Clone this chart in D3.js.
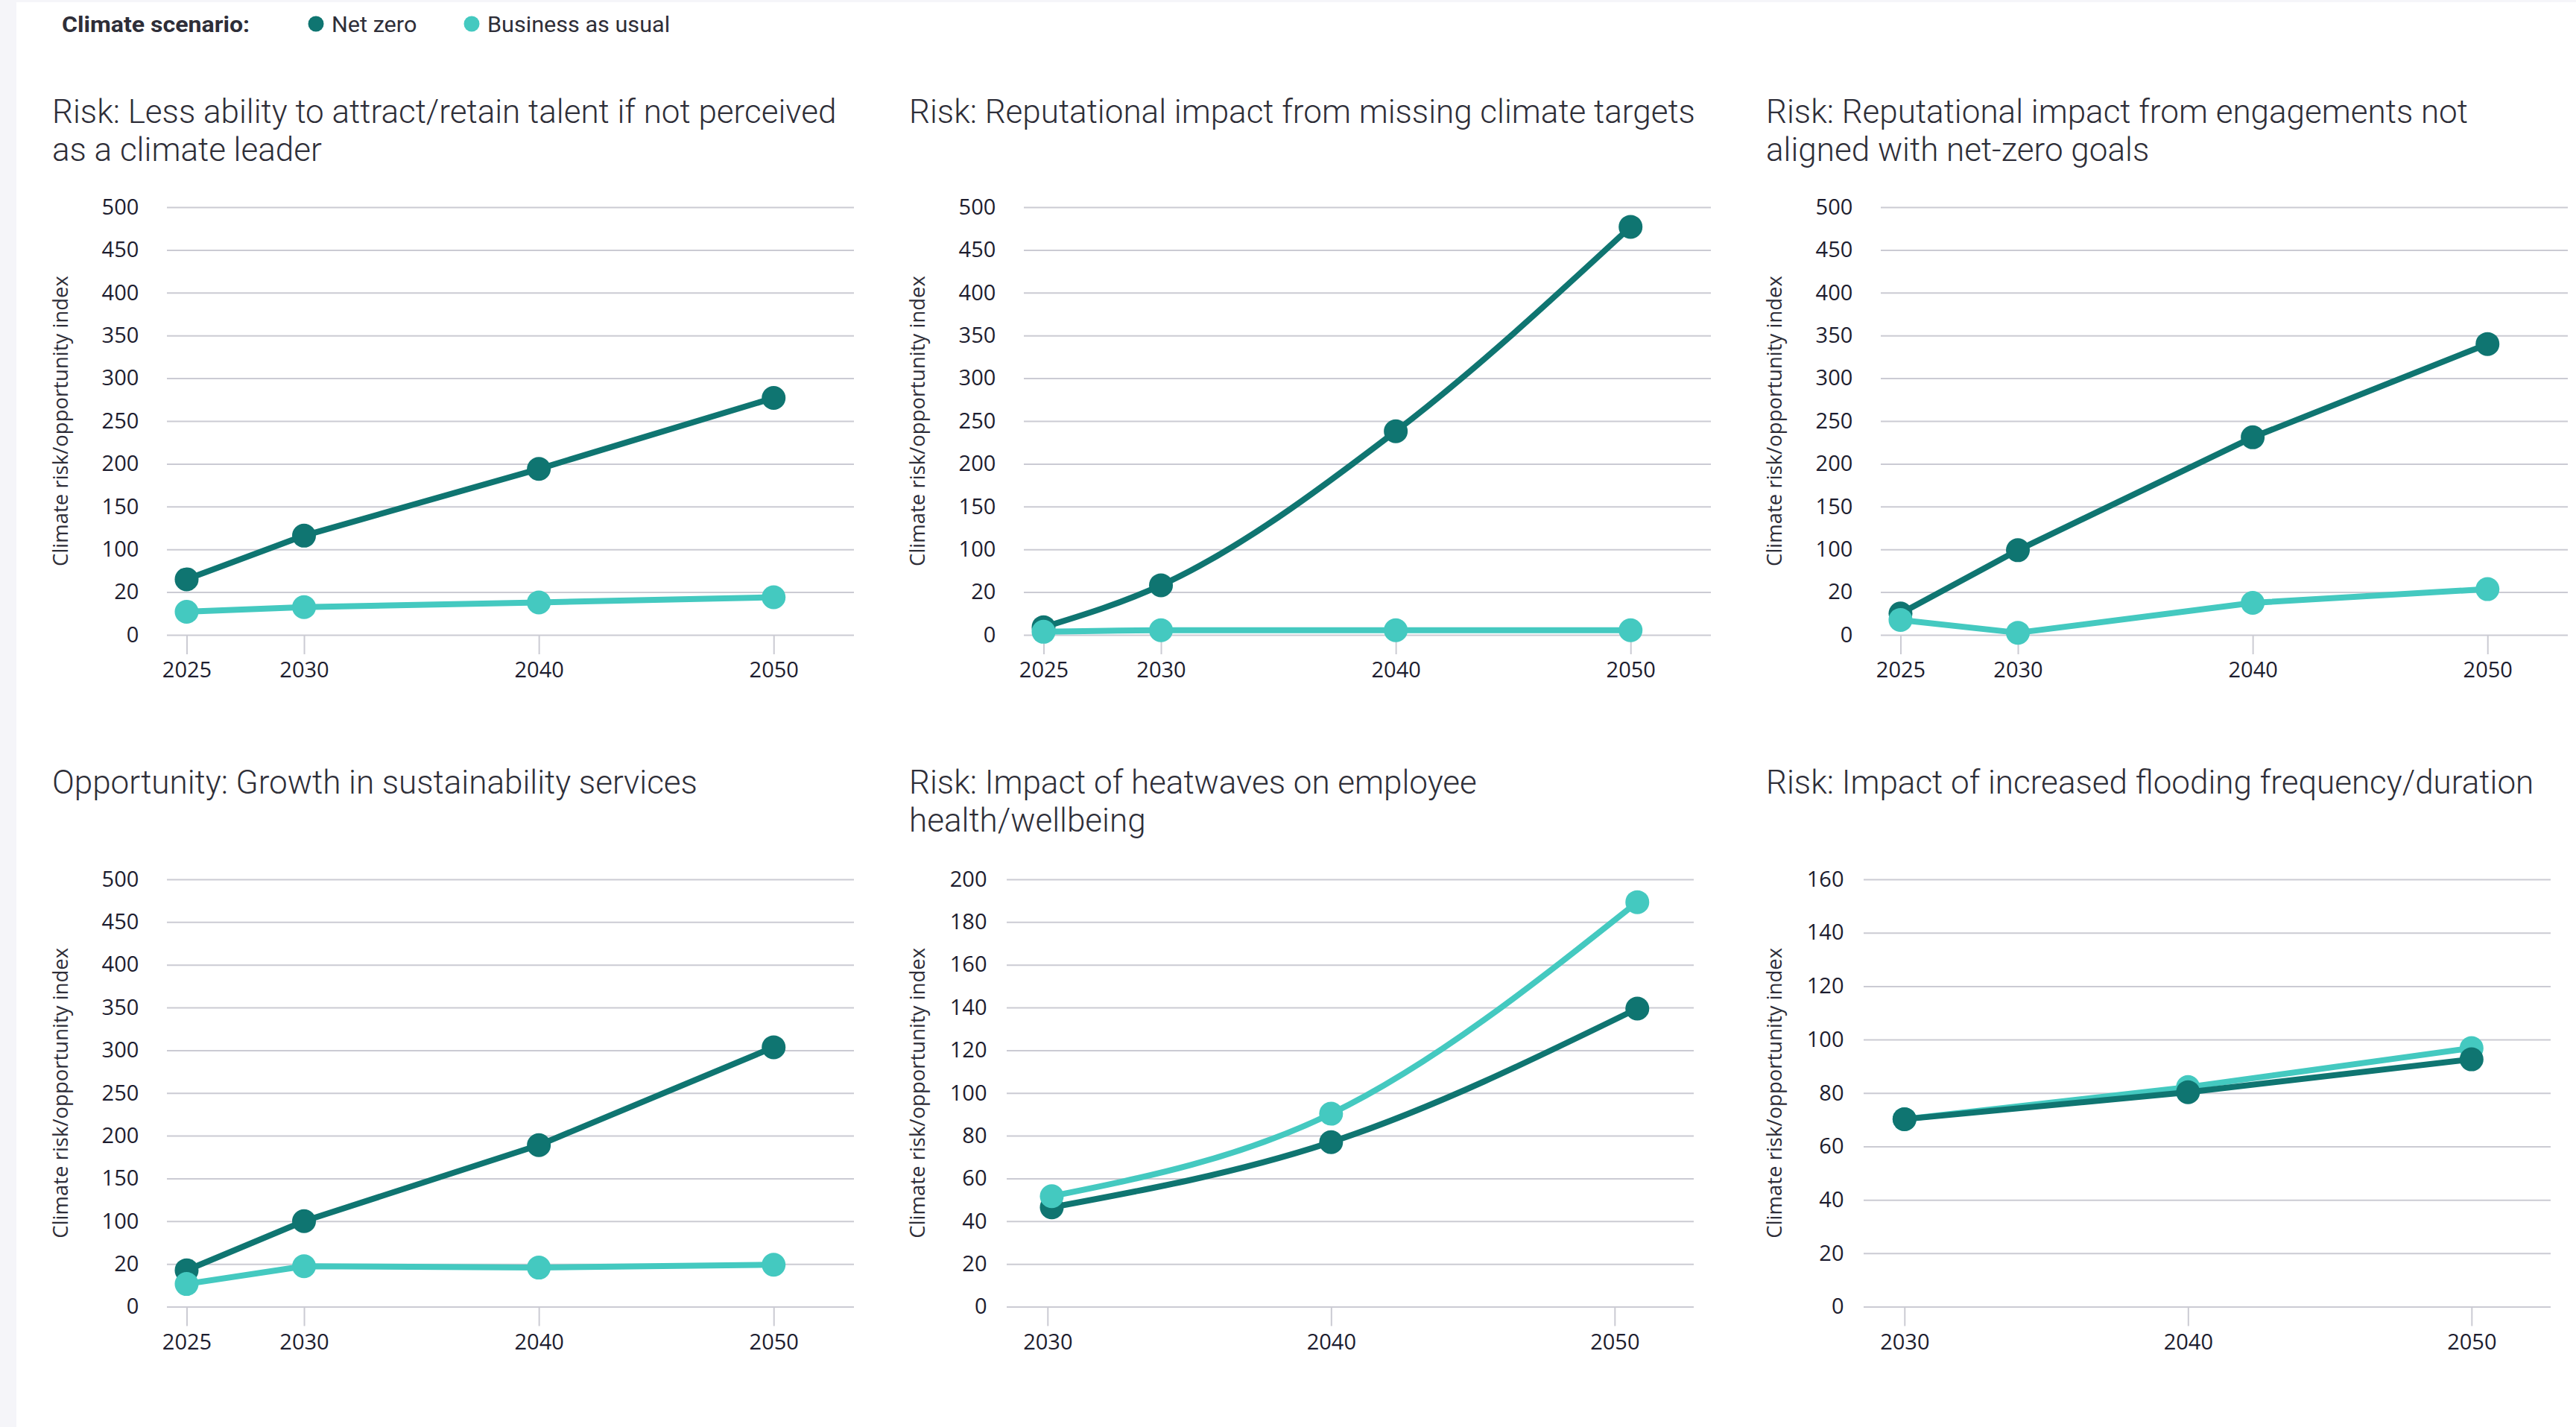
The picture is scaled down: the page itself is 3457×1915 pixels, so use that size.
<!DOCTYPE html>
<html>
<head>
<meta charset="utf-8">
<script src="https://cdn.jsdelivr.net/npm/d3@7"></script>
<style>
	body { margin: 0; background: #ffffff; }
	.panel-title { font-family: Roboto, sans-serif; font-weight: 300; font-size: 44px; fill: #2e2e38; }
	.tick text { font-family: "Open Sans", sans-serif; font-size: 29px; fill: #1d1d2f; }
	.yTitle { font-family: "Open Sans", sans-serif; font-size: 27.5px; fill: #2e2e38; }
	.legend-label { font-family: Roboto, sans-serif; font-size: 30px; font-weight: 400; fill: #2e2e38; }
	.legend-head { font-family: Roboto, sans-serif; font-size: 30px; font-weight: 700; fill: #2e2e38; }
</style>
</head>
<body>
<div id="chart"></div>
<script>

var years25 = [2025, 2030, 2040, 2050];
var years30 = [2030, 2040, 2050];
var heatPointYears = [2030.15, 2040, 2050.8];

var talentNetZero = [65, 116, 194, 277];
var talentBau = [27, 32.5, 38, 44];

var targetsNetZero = [9, 58, 238, 477];
var targetsBau = [3.6, 5.4, 5.4, 5.4];

var engageNetZero = [25, 99, 231, 340];
var engageBau = [17.5, 2.5, 37.5, 53.5];

var servicesNetZero = [42.6, 100, 189, 303.5];
var servicesBau = [26.5, 47.3, 45.7, 49];

var heatNetZero = [46.5, 77, 139.5];
var heatBau = [51.7, 90.3, 189.3];

var floodNetZero = [70.2, 80.3, 92.6];
var floodBau = [70.2, 82.2, 96.8];

var ticks500 = [0, 50, 100, 150, 200, 250, 300, 350, 400, 450, 500];
var tickLabels500 = ["0", "20", "100", "150", "200", "250", "300", "350", "400", "450", "500"];
var ticks200 = [0, 20, 40, 60, 80, 100, 120, 140, 160, 180, 200];
var ticks160 = [0, 20, 40, 60, 80, 100, 120, 140, 160];

var seriesNames = ["Net zero", "Business as usual"];
var yAxisTitle = "Climate risk/opportunity index";

var IDEX = (function(IDEX, d3, undefined)
{
	var W = 3457, H = 1915;
	var colNZ = "#0f7571";
	var colBAU = "#44c9c0";
	var gridCol = "#cbcbd3";

	IDEX.panels = [
		{ col: 0, row: 0, shift: false, title: ["Risk: Less ability to attract/retain talent if not perceived", "as a climate leader"],
		  years: years25, pts: years25, nz: talentNetZero, bau: talentBau, yMax: 500, yTicks: ticks500, yLabels: tickLabels500, xDomain: [2024.16, 2053.42] },
		{ col: 1, row: 0, shift: false, smooth: true, title: ["Risk: Reputational impact from missing climate targets"],
		  years: years25, pts: years25, nz: targetsNetZero, bau: targetsBau, yMax: 500, yTicks: ticks500, yLabels: tickLabels500, xDomain: [2024.16, 2053.42] },
		{ col: 2, row: 0, shift: false, title: ["Risk: Reputational impact from engagements not", "aligned with net-zero goals"],
		  years: years25, pts: years25, nz: engageNetZero, bau: engageBau, yMax: 500, yTicks: ticks500, yLabels: tickLabels500, xDomain: [2024.16, 2053.42] },
		{ col: 0, row: 1, shift: false, title: ["Opportunity: Growth in sustainability services"],
		  years: years25, pts: years25, nz: servicesNetZero, bau: servicesBau, yMax: 500, yTicks: ticks500, yLabels: tickLabels500, xDomain: [2024.16, 2053.42] },
		{ col: 1, row: 1, shift: true, smooth: true, title: ["Risk: Impact of heatwaves on employee", "health/wellbeing"],
		  years: years30, pts: heatPointYears, nz: heatNetZero, bau: heatBau, yMax: 200, yTicks: ticks200, yLabels: null, xDomain: [2028.56, 2052.79] },
		{ col: 2, row: 1, shift: true, nzOnTop: true, title: ["Risk: Impact of increased flooding frequency/duration"],
		  years: years30, pts: years30, nz: floodNetZero, bau: floodBau, yMax: 160, yTicks: ticks160, yLabels: null, xDomain: [2028.56, 2052.79] }
	];

	IDEX.init = function()
	{
		var svg = d3.select("#chart").append("svg")
		.attr("width", W)
		.attr("height", H);

		svg.append("rect")
		.attr("width", W).attr("height", H)
		.attr("fill", "#ffffff");

		// grey frame strips on the left and top
		svg.append("rect")
		.attr("x", 0).attr("y", 0)
		.attr("width", 22).attr("height", H)
		.attr("fill", "#f5f5f9");

		svg.append("rect")
		.attr("x", 0).attr("y", 0)
		.attr("width", W).attr("height", 3)
		.attr("fill", "#f5f5f9");

		IDEX.buildLegend(svg);

		IDEX.panels.forEach(function(p)
		{
			IDEX.drawPanel(svg, p);
		});
	}

	IDEX.buildLegend = function(svg)
	{
		var lg = svg.append("g").attr("class", "legend");

		lg.append("text")
		.attr("class", "legend-head")
		.attr("transform", "translate(83,43) scale(1.07,1)")
		.text("Climate scenario:");

		var items = lg.selectAll("g.item")
		.data(seriesNames)
		.enter().append("g")
		.attr("class", "item")
		.attr("transform", function(d, i) { return "translate(" + [424, 633][i] + ",32)"; });

		items.append("circle")
		.attr("r", 10.5)
		.attr("fill", function(d, i) { return i ? colBAU : colNZ; });

		items.append("text")
		.attr("class", "legend-label")
		.attr("transform", "translate(21,11) scale(1.02,1)")
		.text(function(d) { return d; });
	}

	IDEX.drawPanel = function(svg, p)
	{
		var cx = p.col * 1150;
		var top = p.row ? 1180 : 278;
		var bottom = p.row ? 1753.5 : 852;
		var left = cx + (p.shift ? 201 : 224);
		var right = left + 922;

		var x = d3.scaleLinear().domain(p.xDomain).range([left, right]);
		var y = d3.scaleLinear().domain([0, p.yMax]).range([bottom, top]);

		var g = svg.append("g").attr("class", "panel");

		var tBase = p.row ? 1065 : 165;
		p.title.forEach(function(line, i)
		{
			g.append("text")
			.attr("class", "panel-title")
			.attr("x", cx + 70)
			.attr("y", tBase + i * 51)
			.text(line);
		});

		var yAxis = d3.axisLeft(y)
		.tickValues(p.yTicks)
		.tickSize(-(right - left))
		.tickPadding(p.shift ? 26.5 : 37.7)
		.tickFormat(function(d, i) { return p.yLabels ? p.yLabels[i] : d; });

		var yg = g.append("g")
		.attr("class", "yAxis")
		.attr("transform", "translate(" + left + ",0)")
		.call(yAxis);
		yg.select(".domain").remove();
		yg.selectAll(".tick line").attr("stroke", gridCol).attr("stroke-width", 2);

		var xAxis = d3.axisBottom(x)
		.tickValues(p.years)
		.tickSize(26)
		.tickPadding(10.5)
		.tickFormat(d3.format("d"));

		var xg = g.append("g")
		.attr("class", "xAxis")
		.attr("transform", "translate(0," + bottom + ")")
		.call(xAxis);
		xg.select(".domain").remove();
		xg.selectAll(".tick line").attr("stroke", gridCol).attr("stroke-width", 2);

		g.append("text")
		.attr("class", "yTitle")
		.attr("transform", "translate(" + (cx + 91) + "," + ((top + bottom) / 2) + ") rotate(-90)")
		.attr("text-anchor", "middle")
		.text(yAxisTitle);

		var series = [
			{ vals: p.nz, color: colNZ },
			{ vals: p.bau, color: colBAU }
		];
		if (p.nzOnTop) series.reverse();

		var line = d3.line()
		.x(function(d) { return x(d.year); })
		.y(function(d) { return y(d.v); })
		.curve(p.smooth ? d3.curveMonotoneX : d3.curveLinear);

		series.forEach(function(s)
		{
			var pts = s.vals.map(function(v, i) { return { year: p.pts[i], v: v }; });
			var sg = g.append("g").attr("class", "seriesLine");

			sg.append("path")
			.datum(pts)
			.attr("d", line)
			.attr("fill", "none")
			.attr("stroke", s.color)
			.attr("stroke-width", 8)
			.attr("stroke-linejoin", "round")
			.attr("stroke-linecap", "round");

			sg.selectAll("circle")
			.data(pts)
			.enter().append("circle")
			.attr("cx", function(d) { return x(d.year); })
			.attr("cy", function(d) { return y(d.v); })
			.attr("r", 16)
			.attr("fill", s.color);
		});
	}

	return IDEX;

}(IDEX || {}, d3));

var IDEX;
IDEX.init();
</script>
</body>
</html>
